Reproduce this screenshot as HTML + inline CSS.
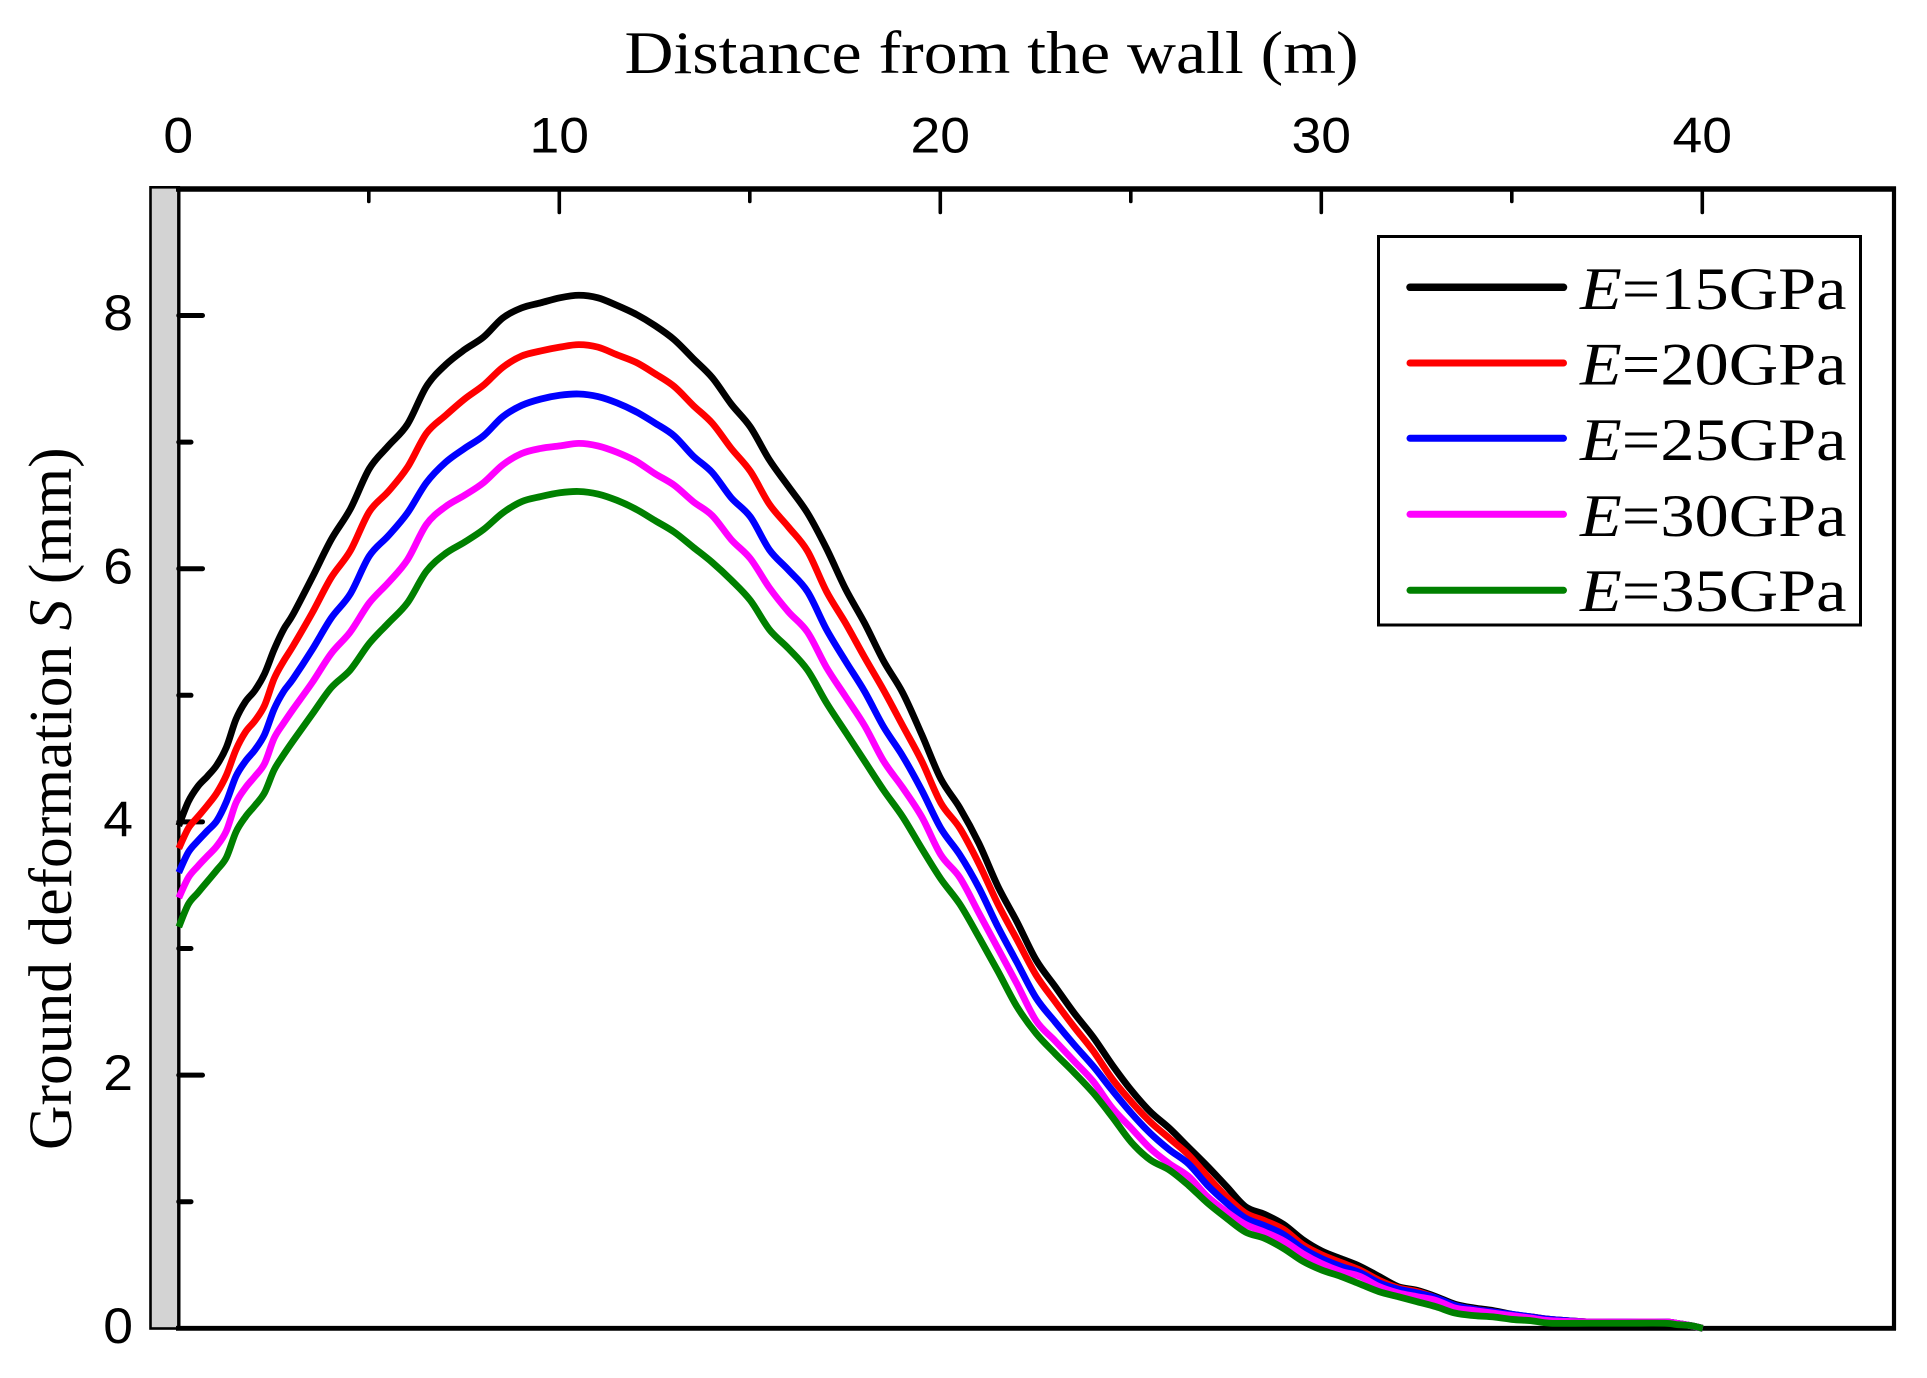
<!DOCTYPE html>
<html lang="en">
<head>
<meta charset="utf-8">
<title>Ground deformation vs distance from the wall</title>
<style>
html,body{margin:0;padding:0;background:#fff;}
svg{display:block;}
.serif{font-family:"Liberation Serif",serif;fill:#000;}
.sans{font-family:"Liberation Sans",sans-serif;fill:#000;}
</style>
</head>
<body>
<svg id="chart" xmlns="http://www.w3.org/2000/svg" width="1927" height="1378" viewBox="0 0 1927 1378">
  <rect x="0" y="0" width="1927" height="1378" fill="#fff"/>
  <rect x="150.5" y="187.3" width="28.3" height="1141.2" fill="#d3d3d3" stroke="#000" stroke-width="2.6"/>
  <g id="axes"></g>
  <g id="ticks"></g>
  <g id="series"></g>
  <text class="serif" font-size="60" transform="translate(624.5,73) scale(1.13,1)">Distance from the wall (m)</text>
  <text class="serif" font-size="60" transform="translate(71,1150) rotate(-90) scale(1.026,1.03)">Ground deformation <tspan font-style="italic">S</tspan> (mm)</text>
  <rect x="1378.5" y="236.5" width="482" height="388.5" fill="#fff" stroke="#000" stroke-width="3"/>
  <g id="legend"></g>
</svg>
<script>
// ---- chart data ----
const distance = [0,0.25,0.5,0.75,1,1.25,1.5,1.75,2,2.25,2.5,2.75,3,3.5,4,4.5,5,5.5,6,6.5,7,7.5,8,8.5,9,9.5,10,10.5,11,11.5,12,12.5,13,13.5,14,14.5,15,15.5,16,16.5,17,17.5,18,18.5,19,19.5,20,20.5,21,21.5,22,22.5,23,23.5,24,24.5,25,25.5,26,26.5,27,27.5,28,28.5,29,29.5,30,30.5,31,31.5,32,32.5,33,33.5,34,34.5,35,35.5,36,37,38,39,39.3,39.7,40];
const e15GPa = [3.97,4.16,4.28,4.36,4.45,4.59,4.81,4.95,5.04,5.17,5.36,5.52,5.64,5.93,6.23,6.47,6.79,6.97,7.14,7.44,7.61,7.73,7.83,7.98,8.06,8.10,8.14,8.16,8.14,8.08,8.01,7.92,7.81,7.66,7.51,7.30,7.12,6.86,6.65,6.44,6.16,5.84,5.57,5.27,5.02,4.69,4.34,4.11,3.83,3.49,3.21,2.91,2.70,2.49,2.30,2.08,1.88,1.71,1.58,1.43,1.28,1.12,0.96,0.90,0.82,0.70,0.61,0.55,0.49,0.41,0.33,0.30,0.25,0.19,0.16,0.14,0.11,0.09,0.07,0.05,0.05,0.05,0.04,0.02,0];
const e20GPa = [3.79,3.95,4.04,4.13,4.23,4.37,4.57,4.71,4.80,4.92,5.13,5.27,5.39,5.65,5.93,6.14,6.45,6.61,6.80,7.07,7.21,7.34,7.45,7.59,7.68,7.72,7.75,7.77,7.75,7.69,7.63,7.54,7.44,7.29,7.15,6.95,6.77,6.51,6.33,6.14,5.82,5.57,5.30,5.04,4.76,4.48,4.15,3.95,3.67,3.35,3.07,2.79,2.58,2.38,2.19,1.97,1.79,1.63,1.50,1.37,1.20,1.04,0.91,0.85,0.78,0.66,0.58,0.52,0.46,0.38,0.32,0.29,0.24,0.18,0.15,0.13,0.10,0.09,0.07,0.05,0.05,0.05,0.04,0.02,0];
const e25GPa = [3.60,3.76,3.85,3.93,4.01,4.16,4.36,4.48,4.57,4.69,4.89,5.03,5.13,5.36,5.61,5.80,6.10,6.26,6.44,6.68,6.84,6.95,7.05,7.20,7.29,7.34,7.37,7.38,7.36,7.31,7.24,7.15,7.05,6.89,6.76,6.56,6.41,6.15,5.99,5.82,5.52,5.27,5.03,4.75,4.52,4.25,3.95,3.74,3.48,3.17,2.89,2.61,2.42,2.24,2.07,1.88,1.70,1.54,1.41,1.30,1.13,0.99,0.87,0.81,0.74,0.63,0.55,0.49,0.44,0.36,0.31,0.28,0.24,0.18,0.15,0.13,0.11,0.09,0.07,0.05,0.05,0.05,0.04,0.02,0];
const e30GPa = [3.40,3.56,3.65,3.73,3.81,3.93,4.15,4.27,4.36,4.46,4.66,4.78,4.89,5.10,5.33,5.50,5.73,5.89,6.07,6.35,6.49,6.58,6.68,6.82,6.91,6.95,6.97,6.99,6.97,6.92,6.85,6.75,6.66,6.53,6.42,6.23,6.08,5.85,5.66,5.50,5.22,4.99,4.76,4.48,4.27,4.04,3.74,3.56,3.28,3.00,2.72,2.43,2.27,2.11,1.95,1.74,1.58,1.42,1.30,1.20,1.04,0.92,0.82,0.76,0.69,0.59,0.51,0.45,0.41,0.33,0.28,0.25,0.22,0.16,0.14,0.12,0.10,0.08,0.06,0.05,0.05,0.05,0.04,0.02,0];
const e35GPa = [3.17,3.35,3.44,3.53,3.62,3.72,3.92,4.04,4.13,4.23,4.41,4.53,4.64,4.85,5.06,5.20,5.41,5.57,5.73,5.98,6.12,6.21,6.31,6.44,6.53,6.57,6.60,6.61,6.59,6.54,6.47,6.38,6.29,6.17,6.05,5.91,5.75,5.52,5.37,5.20,4.94,4.71,4.48,4.25,4.04,3.79,3.55,3.35,3.09,2.82,2.54,2.33,2.17,2.02,1.86,1.67,1.47,1.33,1.25,1.13,0.99,0.87,0.76,0.71,0.63,0.53,0.46,0.41,0.35,0.29,0.25,0.21,0.17,0.12,0.10,0.09,0.07,0.06,0.04,0.04,0.04,0.04,0.03,0.02,0];
const seriesLabels = ["15GPa","20GPa","25GPa","30GPa","35GPa"];
const seriesColors = ["#000000","#ff0000","#0000ff","#ff00ff","#008000"];
const seriesValues = [e15GPa,e20GPa,e25GPa,e30GPa,e35GPa];
const xMajorTicks = [10,20,30,40];
const xMinorTicks = [5,15,25,35];
const xTickLabels = [0,10,20,30,40];
const yMajorTicks = [2,4,6,8];
const yMinorTicks = [1,3,5,7];
const yTickLabels = [0,2,4,6,8];

// ---- axis functions ----
const NS = "http://www.w3.org/2000/svg";
function xScale(v){ return 178.8 + 38.1 * v; }
function yScale(v){ return 1328.3 - 126.6 * v; }
function make(tag, attrs, parent){
  const el = document.createElementNS(NS, tag);
  for (const k in attrs) el.setAttribute(k, attrs[k]);
  parent.appendChild(el);
  return el;
}

// ---- frame ----
const axes = document.getElementById("axes");
const topAxis = make("line",{x1:176,y1:189,x2:1896,y2:189,stroke:"#000","stroke-width":5.6},axes);


const bottomAxis = make("line",{x1:176,y1:1328.3,x2:1896,y2:1328.3,stroke:"#000","stroke-width":4.8},axes);


const leftAxis = make("line",{x1:178.8,y1:186.5,x2:178.8,y2:1330,stroke:"#000","stroke-width":3.4},axes);


const rightAxis = make("line",{x1:1894,y1:186.5,x2:1894,y2:1330,stroke:"#000","stroke-width":4.2},axes);



// ---- ticks ----
const ticks = document.getElementById("ticks");
xMajorTicks.forEach(function(v){
  const t = make("line",{x1:xScale(v)-0.5,y1:189,x2:xScale(v)-0.5,y2:212.5,stroke:"#000","stroke-width":3.6,"stroke-linecap":"round"},ticks);
  
  
});
xMinorTicks.forEach(function(v){
  const t = make("line",{x1:xScale(v)-0.5,y1:189,x2:xScale(v)-0.5,y2:201.5,stroke:"#000","stroke-width":3.6,"stroke-linecap":"round"},ticks);
  
  
});
yMajorTicks.forEach(function(v){
  const t = make("line",{x1:178.8,y1:yScale(v),x2:202.5,y2:yScale(v),stroke:"#000","stroke-width":5,"stroke-linecap":"round"},ticks);
  
  
});
yMinorTicks.forEach(function(v){
  const t = make("line",{x1:178.8,y1:yScale(v),x2:191,y2:yScale(v),stroke:"#000","stroke-width":5,"stroke-linecap":"round"},ticks);
  
  
});
xTickLabels.forEach(function(v){
  const t = make("text",{"class":"sans","font-size":50,"text-anchor":"middle",transform:"translate("+(xScale(v)-0.5)+",152.5) scale(1.07,1)"},ticks);
  t.textContent = String(v);
  
  
});
yTickLabels.forEach(function(v){
  const t = make("text",{"class":"sans","font-size":50,"text-anchor":"end",transform:"translate(133,"+(yScale(v)+14.7)+") scale(1.07,1)"},ticks);
  t.textContent = String(v);
  
  
});

// ---- curves ----
function smoothPath(xs, ys){
  const pts = xs.map(function(x,i){ return [xScale(x), yScale(ys[i])]; });
  let d = "M" + pts[0][0].toFixed(2) + " " + pts[0][1].toFixed(2);
  for (let i = 0; i < pts.length - 1; i++){
    const p0 = pts[Math.max(i-1,0)], p1 = pts[i], p2 = pts[i+1], p3 = pts[Math.min(i+2,pts.length-1)];
    const c1x = p1[0] + (p2[0]-p0[0]) / 6, c1y = p1[1] + (p2[1]-p0[1]) / 6;
    const c2x = p2[0] - (p3[0]-p1[0]) / 6, c2y = p2[1] - (p3[1]-p1[1]) / 6;
    d += "C" + c1x.toFixed(2) + " " + c1y.toFixed(2) + " " + c2x.toFixed(2) + " " + c2y.toFixed(2) + " " + p2[0].toFixed(2) + " " + p2[1].toFixed(2);
  }
  return d;
}
const seriesGroup = document.getElementById("series");
seriesValues.forEach(function(vals, i){
  const p = make("path",{d:smoothPath(distance, vals),fill:"none",stroke:seriesColors[i],"stroke-width":6.8,"stroke-linejoin":"round"},seriesGroup);
  
  
});

// ---- legend ----
const legend = document.getElementById("legend");
const legendLineY = [287.3,363,438.3,514.3,590.3];
const legendTextY = [309,384.5,460,536,611];
seriesLabels.forEach(function(label, i){
  const l = make("line",{x1:1410,y1:legendLineY[i],x2:1563.5,y2:legendLineY[i],stroke:seriesColors[i],"stroke-width":i===0?7.5:7,"stroke-linecap":"round"},legend);
  
  
  const t = make("text",{"class":"serif","font-size":60,transform:"translate(1580,"+legendTextY[i]+") scale(1.14,1)"},legend);
  
  
  const e = make("tspan",{"font-style":"italic"},t);
  e.textContent = "E";
  t.appendChild(document.createTextNode("=" + label));
});
</script>
</body>
</html>
